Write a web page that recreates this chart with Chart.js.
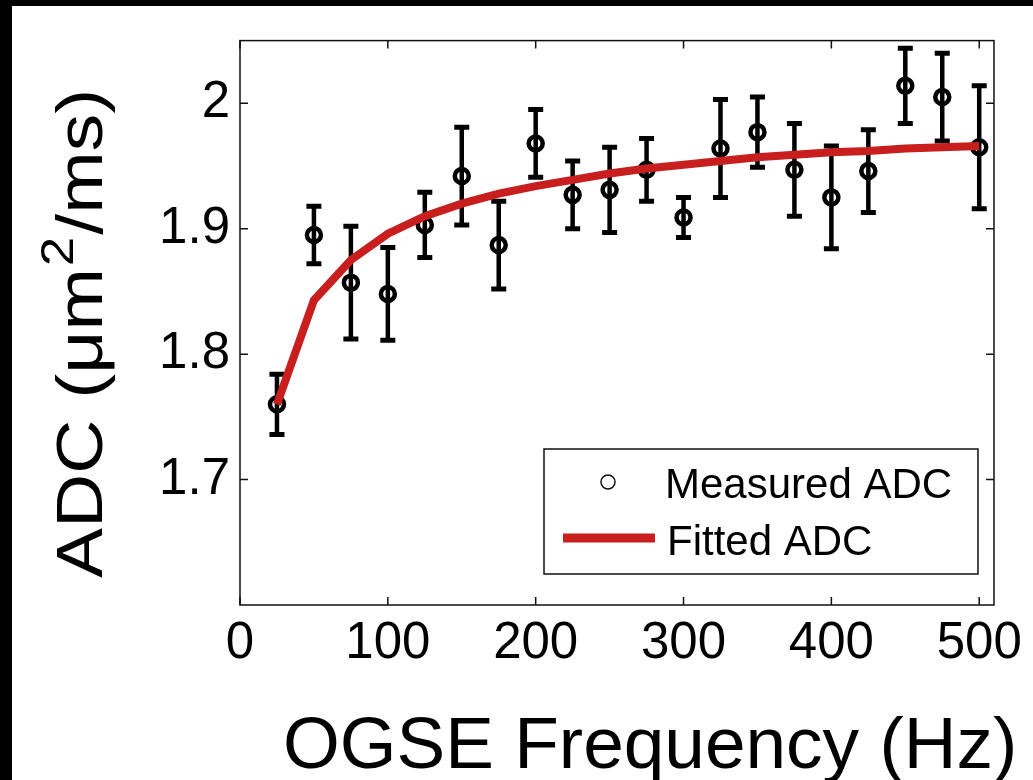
<!DOCTYPE html>
<html>
<head>
<meta charset="utf-8">
<script src="https://cdn.jsdelivr.net/npm/chart.js@4.4.0/dist/chart.umd.min.js"></script>
<style>
  html, body { margin: 0; padding: 0; background: #fff; overflow: hidden; }
  canvas { display: block; }
</style>
</head>
<body>
<canvas id="adcChart" width="1033" height="780"></canvas>
<script>
// ===== Data =====
const freqs = [25, 50, 75, 100, 125, 150, 175, 200, 225, 250, 275, 300, 325, 350, 375, 400, 425, 450, 475, 500];
const measuredADC = [1.760, 1.895, 1.857, 1.848, 1.903, 1.942, 1.887, 1.968, 1.927, 1.931,
                     1.947, 1.909, 1.964, 1.977, 1.947, 1.925, 1.946, 2.014, 2.005, 1.965];
const adcErrors = [0.024, 0.023, 0.045, 0.037, 0.026, 0.039, 0.035, 0.027, 0.027, 0.034,
                   0.025, 0.016, 0.039, 0.028, 0.037, 0.041, 0.033, 0.030, 0.035, 0.049];
const fittedADC = [1.760, 1.843, 1.875, 1.896, 1.910, 1.920, 1.928, 1.934, 1.939, 1.944,
                   1.948, 1.951, 1.954, 1.957, 1.959, 1.961, 1.962, 1.964, 1.965, 1.966];
const xTicks = [0, 100, 200, 300, 400, 500];
const yTicks = [1.7, 1.8, 1.9, 2];

const FONT = "'Liberation Sans', Arial, sans-serif";
const RED = 'rgb(200, 30, 30)';

// ===== Error bars (under the markers) =====
const errorBars = {
  id: 'errorBars',
  beforeDatasetsDraw(chart) {
    const { ctx, scales: { x, y } } = chart;
    ctx.save();
    ctx.strokeStyle = '#000';
    freqs.forEach((f, i) => {
      const px = x.getPixelForValue(f);
      const top = y.getPixelForValue(measuredADC[i] + adcErrors[i]);
      const bot = y.getPixelForValue(measuredADC[i] - adcErrors[i]);
      ctx.lineWidth = 4.5;
      ctx.beginPath();
      ctx.moveTo(px, top); ctx.lineTo(px, bot);
      ctx.stroke();
      ctx.lineWidth = 5;
      ctx.beginPath();
      ctx.moveTo(px - 7.5, top); ctx.lineTo(px + 7.5, top);
      ctx.moveTo(px - 7.5, bot); ctx.lineTo(px + 7.5, bot);
      ctx.stroke();
    });
    ctx.restore();
  }
};

// ===== Frame, inward ticks, legend, titles =====
const decorations = {
  id: 'decorations',
  afterDraw(chart) {
    const { ctx, chartArea: a, scales: { x, y } } = chart;
    ctx.save();

    // box + ticks on all four sides
    ctx.strokeStyle = '#111';
    ctx.lineWidth = 1.5;
    ctx.strokeRect(a.left, a.top, a.right - a.left, a.bottom - a.top);
    ctx.beginPath();
    xTicks.forEach(v => {
      const px = x.getPixelForValue(v);
      ctx.moveTo(px, a.bottom); ctx.lineTo(px, a.bottom - 8);
      ctx.moveTo(px, a.top); ctx.lineTo(px, a.top + 8);
    });
    yTicks.forEach(v => {
      const py = y.getPixelForValue(v);
      ctx.moveTo(a.left, py); ctx.lineTo(a.left + 8, py);
      ctx.moveTo(a.right, py); ctx.lineTo(a.right - 8, py);
    });
    ctx.stroke();

    // legend
    const ds = chart.data.datasets;
    ctx.fillStyle = '#fff';
    ctx.fillRect(544, 449, 434, 125);
    ctx.strokeStyle = '#111';
    ctx.lineWidth = 1.5;
    ctx.strokeRect(544, 449, 434, 125);
    ctx.beginPath();
    ctx.arc(608, 482, 7, 0, Math.PI * 2);
    ctx.stroke();
    ctx.strokeStyle = RED;
    ctx.lineWidth = 9;
    ctx.beginPath();
    ctx.moveTo(563, 538); ctx.lineTo(655, 538);
    ctx.stroke();
    ctx.fillStyle = '#000';
    ctx.font = `42px ${FONT}`;
    ctx.textAlign = 'left';
    ctx.textBaseline = 'alphabetic';
    ctx.fillText(ds[0].label, 665, 498);
    ctx.fillText(ds[1].label, 667, 555);

    // x title
    ctx.font = `73px ${FONT}`;
    ctx.fillText('OGSE Frequency (Hz)', 283, 768);

    // y title with superscript
    ctx.translate(102, 578);
    ctx.rotate(-Math.PI / 2);
    ctx.scale(1, 0.86);
    const F = 75;
    ctx.font = `${F}px ${FONT}`;
    let cx = 0;
    const part1 = 'ADC (\u03bcm';
    ctx.fillText(part1, cx, 0);
    cx += ctx.measureText(part1).width;
    ctx.font = `${Math.round(F * 0.7)}px ${FONT}`;
    ctx.fillText('2', cx + 2, -F * 0.45);
    cx += ctx.measureText('2').width + 4;
    ctx.font = `${F}px ${FONT}`;
    ctx.fillText('/ms)', cx, 0);
    ctx.restore();

    // black strips along the top and left edges of the picture
    ctx.save();
    ctx.fillStyle = '#000';
    ctx.fillRect(0, 0, chart.width, 6);
    ctx.fillRect(0, 0, 12, chart.height);
    ctx.restore();
  }
};

new Chart(document.getElementById('adcChart'), {
  type: 'scatter',
  data: {
    datasets: [
      {
        label: 'Measured ADC',
        data: freqs.map((f, i) => ({ x: f, y: measuredADC[i] })),
        pointRadius: 7,
        pointBorderWidth: 4.5,
        pointBorderColor: '#000',
        pointBackgroundColor: 'rgba(0,0,0,0)',
        showLine: false,
        order: 1
      },
      {
        type: 'line',
        label: 'Fitted ADC',
        data: freqs.map((f, i) => ({ x: f, y: fittedADC[i] })),
        borderColor: RED,
        borderWidth: 8,
        pointRadius: 0,
        tension: 0,
        fill: false,
        order: 0
      }
    ]
  },
  options: {
    responsive: false,
    animation: false,
    events: [],
    layout: { padding: { left: 0, top: 36, right: 39, bottom: 0 } },
    plugins: { legend: { display: false }, tooltip: { enabled: false } },
    scales: {
      x: {
        type: 'linear',
        min: 0,
        max: 510,
        grid: { display: false, drawTicks: false },
        border: { display: false },
        afterBuildTicks: s => { s.ticks = xTicks.map(v => ({ value: v })); },
        afterFit: s => { s.height = 175; },
        ticks: {
          padding: 8,
          color: '#000',
          font: { family: FONT, size: 51 },
          callback: v => String(v)
        }
      },
      y: {
        min: 1.6,
        max: 2.05,
        grid: { display: false, drawTicks: false },
        border: { display: false },
        afterBuildTicks: s => { s.ticks = yTicks.map(v => ({ value: v })); },
        afterFit: s => { s.width = 240; },
        ticks: {
          padding: 10,
          color: '#000',
          font: { family: FONT, size: 51 },
          callback: v => String(Math.round(v * 10) / 10)
        }
      }
    }
  },
  plugins: [errorBars, decorations]
});
</script>
</body>
</html>
